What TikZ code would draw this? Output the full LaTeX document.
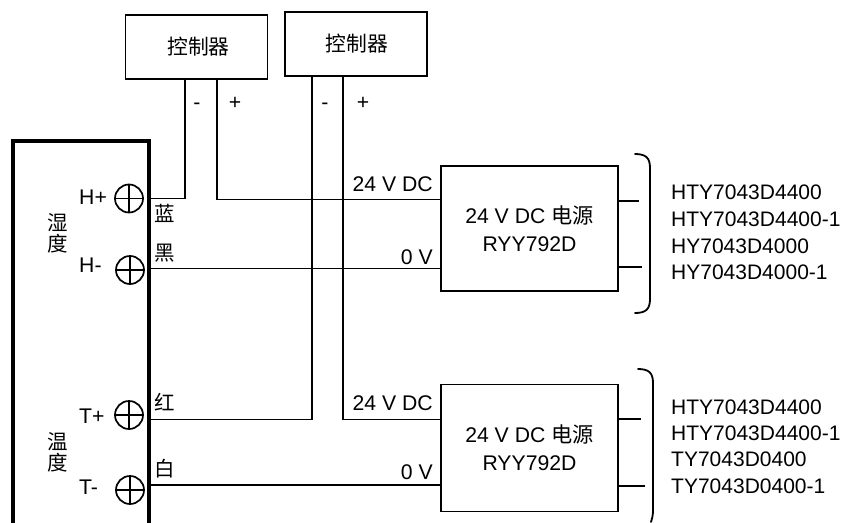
\documentclass[tikz,border=0pt]{standalone}
\usepackage{fontspec}
\setmainfont{Liberation Sans}
\newfontfamily\cjk{Noto Sans CJK SC}
\usetikzlibrary{calc,positioning}
\tikzset{
  wire/.style={line width=1.8pt},
  block/.style={draw,line width=1.8pt,inner sep=0pt,align=center},
  term/.style={circle,draw,line width=1.7pt,minimum size=28pt,inner sep=0pt,
    path picture={
      \draw[line width=1.7pt] (path picture bounding box.north) -- (path picture bounding box.south);
      \draw[line width=1.7pt] (path picture bounding box.west) -- (path picture bounding box.east);
    }},
  txt/.style={inner sep=0pt,font=\fontsize{21.2}{28}\selectfont},
  zh/.style={inner sep=0pt,font=\fontsize{20.5}{21}\selectfont\cjk,align=center}
}
\begin{document}
\begin{tikzpicture}[x=1pt,y=-1pt]
  \useasboundingbox (0,0) rectangle (843,522);

  % the sensor housing, open at the bottom
  \draw [line width=3.7pt] (12.7,530) |- (149,141) -- (149,530);

  % terminals and their end points on the housing
  \foreach \name/\lab/\tx/\ty/\ly/\wy in {
    hp/H+/129/198.5/204/198.5,
    hm/H-/130/270/272/268.5,
    tp/T+/129/415/423/419.5,
    tm/T-/130/490/494/485}
  {
    \node [term] (\name) at (\tx,\ty) {};
    \node [txt,anchor=base west] (\name lab) at (79,\ly) {\lab};
    \coordinate (\name pin) at (150,\wy);
  }

  \node [zh] (humi) at (58,233.5) {湿\\度};
  \node [zh] (temp) at (58,452) {温\\度};

  % wire colours
  \foreach \name/\lab/\ly in {lb/蓝/213,lk/黑/253,lr/红/402,lw/白/469}
    \node [zh] (\name) at (165,\ly) {\lab};

  % controllers
  \node [block,font=\fontsize{20.8}{22}\selectfont\cjk,minimum width=142pt,minimum height=64pt] (ctrlA) at (196.5,47) {\hspace*{4pt}\raisebox{1pt}{控制器}};
  \node [block,font=\fontsize{20.8}{22}\selectfont\cjk,minimum width=142pt,minimum height=64pt] (ctrlB) at (356,44) {\hspace*{2pt}\raisebox{-1.5pt}{控制器}};

  % power supplies
  \node [block,txt,minimum width=177pt,minimum height=125pt] (psuA) at (529.5,228.5) {24 V DC {\cjk 电源}\\RYY792D};
  \node [block,txt,minimum width=177pt,minimum height=127pt] (psuB) at (529.5,448) {24 V DC {\cjk 电源}\\RYY792D};

  % wire ends on the boxes
  \coordinate (aminus) at ($(ctrlA.south west)+(60,0)$);
  \coordinate (aplus)  at ($(ctrlA.south west)+(92,0)$);
  \coordinate (bminus) at ($(ctrlB.south west)+(28,0)$);
  \coordinate (bplus)  at ($(ctrlB.south west)+(59,0)$);
  \coordinate (psuAp) at (psuA.west |- 0,199.5);
  \coordinate (psuBp) at (psuB.west |- 0,419.5);

  % the wiring
  \draw [wire] (aminus) |- (hppin);
  \draw [wire] (aplus) |- (psuAp);
  \draw [wire] (bminus) |- (tppin);
  \draw [wire] (bplus) |- (psuBp);
  \draw [wire] (hmpin) -- (psuA.west |- hmpin);
  \draw [wire] (tmpin) -- (psuB.west |- tmpin);

  % polarity marks
  \foreach \name/\lab/\lx in {ma/-/197,pa/+/235,mb/-/325,pb/+/363}
    \node [txt,anchor=base] (\name) at (\lx,109) {\lab};

  % voltage marks
  \foreach \name/\lab/\ly in {va/24 V DC/184,za/0 V/257,vb/24 V DC/403,zb/0 V/472}
    \node [txt,anchor=east] (\name) at (433,\ly) {\lab};

  % output stubs
  \foreach \name/\y/\xend in {sa/201/639,sb/267/642,sc/419/641,sd/486/645}
  {
    \coordinate (\name) at (\xend,\y);
    \draw [wire] (618,\y) -- (\name);
  }

  % the braces
  \draw [wire,line cap=round] (635,154) .. controls (646,154) and (650,158) .. (650,168) -- (650,299) .. controls (650,309) and (646,313) .. (635,313);
  \draw [wire,line cap=round] (638,369) .. controls (649,369) and (653,373) .. (653,383) -- (653,510) .. controls (653,516) and (652,519) .. (651,522);

  % model lists
  \foreach \name/\lab/\ly in {
    ma1/HTY7043D4400/192.5,ma2/HTY7043D4400-1/219,ma3/HY7043D4000/246,ma4/HY7043D4000-1/272.5,
    mb1/HTY7043D4400/407,mb2/HTY7043D4400-1/433,mb3/TY7043D0400/459.5,mb4/TY7043D0400-1/486}
    \node [txt,anchor=west,font=\fontsize{21}{24}\selectfont] (\name) at (671,\ly) {\lab};
\end{tikzpicture}
\end{document}
